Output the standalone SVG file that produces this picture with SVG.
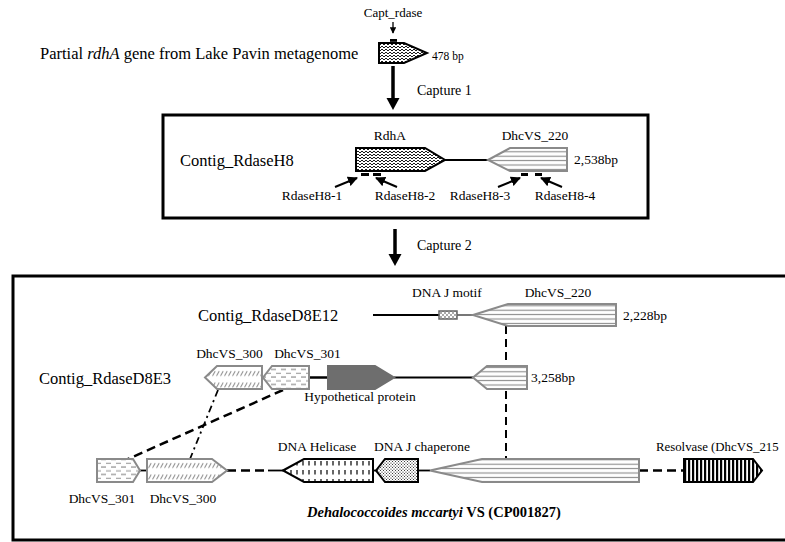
<svg xmlns="http://www.w3.org/2000/svg" width="785" height="542" viewBox="0 0 785 542">
<style>
text{font-family:"Liberation Serif","Times New Roman",serif;fill:#000}
.big{font-size:16.5px}
.lab{font-size:13.5px}
.mid{text-anchor:middle}
.blk{stroke:#000;stroke-width:2}
.gry{stroke:#8a8a8a;stroke-width:2}
.ln{stroke:#000;stroke-width:1.8;fill:none}
.dash{stroke:#000;stroke-width:2.5;fill:none;stroke-dasharray:9,5}
</style>
<defs>
<pattern id="weave" width="8" height="6" patternUnits="userSpaceOnUse">
<rect width="8" height="6" fill="#fff"/>
<path d="M0,3 L2,1 L4,3 L6,1 L8,3 M0,6 L2,4 L4,6 L6,4 L8,6 M0,0 L2,-2" stroke="#000" stroke-width="0.9" fill="none"/>
</pattern>
<pattern id="hstripe" width="10" height="4.4" patternUnits="userSpaceOnUse">
<rect width="10" height="4.4" fill="#fff"/>
<line x1="0" y1="2.2" x2="10" y2="2.2" stroke="#8a8a8a" stroke-width="1.1"/>
</pattern>
<pattern id="diag" width="4" height="11.5" patternUnits="userSpaceOnUse">
<rect width="4" height="11.5" fill="#fff"/>
<path d="M0.5,8 L3.2,3" stroke="#8a8a8a" stroke-width="1"/>
</pattern>
<pattern id="hdash" width="10" height="7.5" patternUnits="userSpaceOnUse">
<rect width="10" height="7.5" fill="#fff"/>
<path d="M1,2 L6,2 M6,5.8 L10,5.8 M0,5.8 L1,5.8" stroke="#8a8a8a" stroke-width="1"/>
</pattern>
<pattern id="vdash" width="6" height="9" patternUnits="userSpaceOnUse">
<rect width="6" height="9" fill="#fff"/>
<line x1="3" y1="2" x2="3" y2="6.5" stroke="#000" stroke-width="1.2"/>
</pattern>
<pattern id="dots" width="3" height="3" patternUnits="userSpaceOnUse">
<rect width="3" height="3" fill="#fff"/>
<circle cx="1" cy="1" r="0.6" fill="#000"/>
<circle cx="2.5" cy="2.5" r="0.5" fill="#000"/>
</pattern>
<pattern id="vstripe" width="4" height="10" patternUnits="userSpaceOnUse">
<rect width="4" height="10" fill="#fff"/>
<rect x="0" width="2.2" height="10" fill="#000"/>
</pattern>
<pattern id="checks" width="4" height="4" patternUnits="userSpaceOnUse">
<rect width="4" height="4" fill="#fff"/>
<rect width="2" height="2" fill="#aaa"/>
<rect x="2" y="2" width="2" height="2" fill="#aaa"/>
</pattern>
<marker id="ah" viewBox="0 0 10 10" refX="9" refY="5" markerWidth="5" markerHeight="5" orient="auto">
<path d="M0,0 L10,5 L0,10 z" fill="#000"/>
</marker>
</defs>

<g id="frames">
<rect x="163" y="115" width="485" height="103" fill="none" stroke="#000" stroke-width="3"/>
<rect x="13" y="276" width="800" height="264" fill="none" stroke="#000" stroke-width="3"/>
</g>

<g id="connectors">
<line x1="393" y1="22" x2="393" y2="33" stroke="#000" stroke-width="1.3" marker-end="url(#ah)"/>
<line x1="393" y1="66" x2="393" y2="99" stroke="#000" stroke-width="3.5"/>
<polygon points="386.5,98 399.5,98 393,110" fill="#000"/>
<line x1="395" y1="229" x2="395" y2="255" stroke="#000" stroke-width="3.5"/>
<polygon points="388.5,254 401.5,254 395,266" fill="#000"/>
<line x1="445" y1="160" x2="488" y2="160" class="ln"/>
<line x1="335" y1="187" x2="357" y2="178" stroke="#000" stroke-width="2" marker-end="url(#ah)"/>
<line x1="397" y1="187" x2="376" y2="178" stroke="#000" stroke-width="2" marker-end="url(#ah)"/>
<line x1="498" y1="187" x2="520" y2="178" stroke="#000" stroke-width="2" marker-end="url(#ah)"/>
<line x1="562" y1="187" x2="541" y2="178" stroke="#000" stroke-width="2" marker-end="url(#ah)"/>
<line x1="373" y1="315" x2="439" y2="315" class="ln"/>
<line x1="457" y1="315" x2="473" y2="315" stroke="#777" stroke-width="2"/>
<line x1="506" y1="326" x2="506" y2="459" stroke="#000" stroke-width="2" stroke-dasharray="8,5"/>
<line x1="309" y1="377.5" x2="328" y2="377.5" stroke="#000" stroke-width="2.5"/>
<line x1="394" y1="377.5" x2="473" y2="377.5" class="ln"/>
<line x1="283" y1="390" x2="128" y2="459" class="dash" stroke-width="2"/>
<line x1="218" y1="390" x2="190" y2="459" stroke="#000" stroke-width="1.8" stroke-dasharray="7,4,2,4" fill="none"/>
<line x1="140" y1="470.5" x2="147" y2="470.5" class="ln"/>
<line x1="227" y1="470.5" x2="268" y2="470.5" class="dash"/>
<line x1="268" y1="470.5" x2="283" y2="470.5" class="ln"/>
<line x1="373" y1="470.5" x2="376" y2="470.5" class="ln"/>
<line x1="418" y1="470.5" x2="430" y2="470.5" class="ln"/>
<line x1="639" y1="470.5" x2="684" y2="470.5" class="dash"/>
</g>

<g id="top-gene">
<text x="393" y="17" class="mid" style="font-size:13px">Capt_rdase</text>
<rect x="390" y="39" width="7" height="2.8" fill="#000"/>
<polygon points="379,43 404,43 427,53 404,63 379,63" fill="url(#weave)" class="blk"/>
<text x="40" y="59" class="big">Partial <tspan font-style="italic">rdhA</tspan> gene from Lake Pavin metagenome</text>
<text x="432" y="60" style="font-size:11.5px">478 bp</text>
<text x="417" y="95" style="font-size:14px">Capture 1</text>
</g>

<g id="contig-h8">
<text x="180" y="166" class="big">Contig_RdaseH8</text>
<g id="h8-rdha">
<polygon points="356,148 425,148 445,160 425,171 356,171" fill="url(#weave)" class="blk"/>
<text x="390" y="140" class="lab mid">RdhA</text>
</g>
<g id="h8-dhcvs220">
<polygon points="488,160 510,148 567,148 567,171 510,171" fill="url(#hstripe)" class="gry"/>
<text x="535" y="140" class="lab mid">DhcVS_220</text>
</g>
<text x="574" y="164" class="lab">2,538bp</text>
<rect x="361" y="173" width="8" height="3" fill="#000"/>
<rect x="373" y="173" width="8" height="3" fill="#000"/>
<rect x="521" y="173" width="7" height="3" fill="#000"/>
<rect x="535" y="173" width="7" height="3" fill="#000"/>
<text x="312" y="200" class="lab mid">RdaseH8-1</text>
<text x="405" y="200" class="lab mid">RdaseH8-2</text>
<text x="480" y="200" class="lab mid">RdaseH8-3</text>
<text x="565" y="200" class="lab mid">RdaseH8-4</text>
</g>

<text x="417" y="250" style="font-size:14px">Capture 2</text>

<g id="contig-d8e12">
<text x="198" y="321" class="big">Contig_RdaseD8E12</text>
<g id="d8e12-dnaj">
<rect x="439" y="311" width="18" height="8" fill="url(#checks)" stroke="#666" stroke-width="1.5"/>
<text x="447" y="297" class="lab mid">DNA J motif</text>
</g>
<g id="d8e12-dhcvs220">
<polygon points="473,315 508,304 616,304 616,326 508,326" fill="url(#hstripe)" class="gry"/>
<text x="558" y="297" class="lab mid">DhcVS_220</text>
</g>
<text x="623" y="320" class="lab">2,228bp</text>
</g>

<g id="contig-d8e3">
<text x="39" y="384" class="big">Contig_RdaseD8E3</text>
<g id="d8e3-dhcvs300">
<polygon points="205,377.5 217,366 262,366 262,389 217,389" fill="url(#diag)" class="gry"/>
<text x="229.5" y="358" class="lab mid">DhcVS_300</text>
</g>
<g id="d8e3-dhcvs301">
<polygon points="263,377.5 272,366 309,366 309,389 272,389" fill="url(#hdash)" class="gry"/>
<text x="307.5" y="358" class="lab mid">DhcVS_301</text>
</g>
<g id="d8e3-hypo">
<polygon points="328,366 375,366 394,377.5 375,389 328,389" fill="#6e6e6e" stroke="#6e6e6e" stroke-width="2"/>
<text x="360" y="401" class="lab mid">Hypothetical protein</text>
</g>
<g id="d8e3-dhcvs220">
<polygon points="473,377.5 487,366 527,366 527,389 487,389" fill="url(#hstripe)" class="gry"/>
</g>
<text x="531" y="382" class="lab">3,258bp</text>
</g>

<g id="genome-vs">
<g id="vs-dhcvs301">
<polygon points="97,459 133,459 140,470.5 133,482 97,482" fill="url(#hdash)" class="gry"/>
<text x="102" y="503" class="lab mid">DhcVS_301</text>
</g>
<g id="vs-dhcvs300">
<polygon points="147,459 212,459 227,470.5 212,482 147,482" fill="url(#diag)" class="gry"/>
<text x="183" y="503" class="lab mid">DhcVS_300</text>
</g>
<g id="vs-helicase">
<polygon points="283,470.5 304,459 373,459 373,482 304,482" fill="url(#vdash)" class="blk"/>
<text x="317" y="451" class="lab mid">DNA Helicase</text>
</g>
<g id="vs-chaperone">
<polygon points="376,470.5 385,459 418,459 418,482 385,482" fill="url(#dots)" class="blk"/>
<text x="422" y="451" class="lab mid">DNA J chaperone</text>
</g>
<g id="vs-dhcvs220">
<polygon points="430,470.5 482,459 639,459 639,482 482,482" fill="url(#hstripe)" class="gry"/>
</g>
<g id="vs-resolvase">
<polygon points="684,459 753,459 762,470.5 753,482 684,482" fill="url(#vstripe)" class="blk"/>
<text x="656" y="451" style="font-size:12.8px">Resolvase (DhcVS_215</text>
</g>
<text x="307" y="517" style="font-size:14.5px;font-weight:bold"><tspan font-style="italic">Dehalococcoides mccartyi</tspan> VS (CP001827)</text>
</g>
</svg>
